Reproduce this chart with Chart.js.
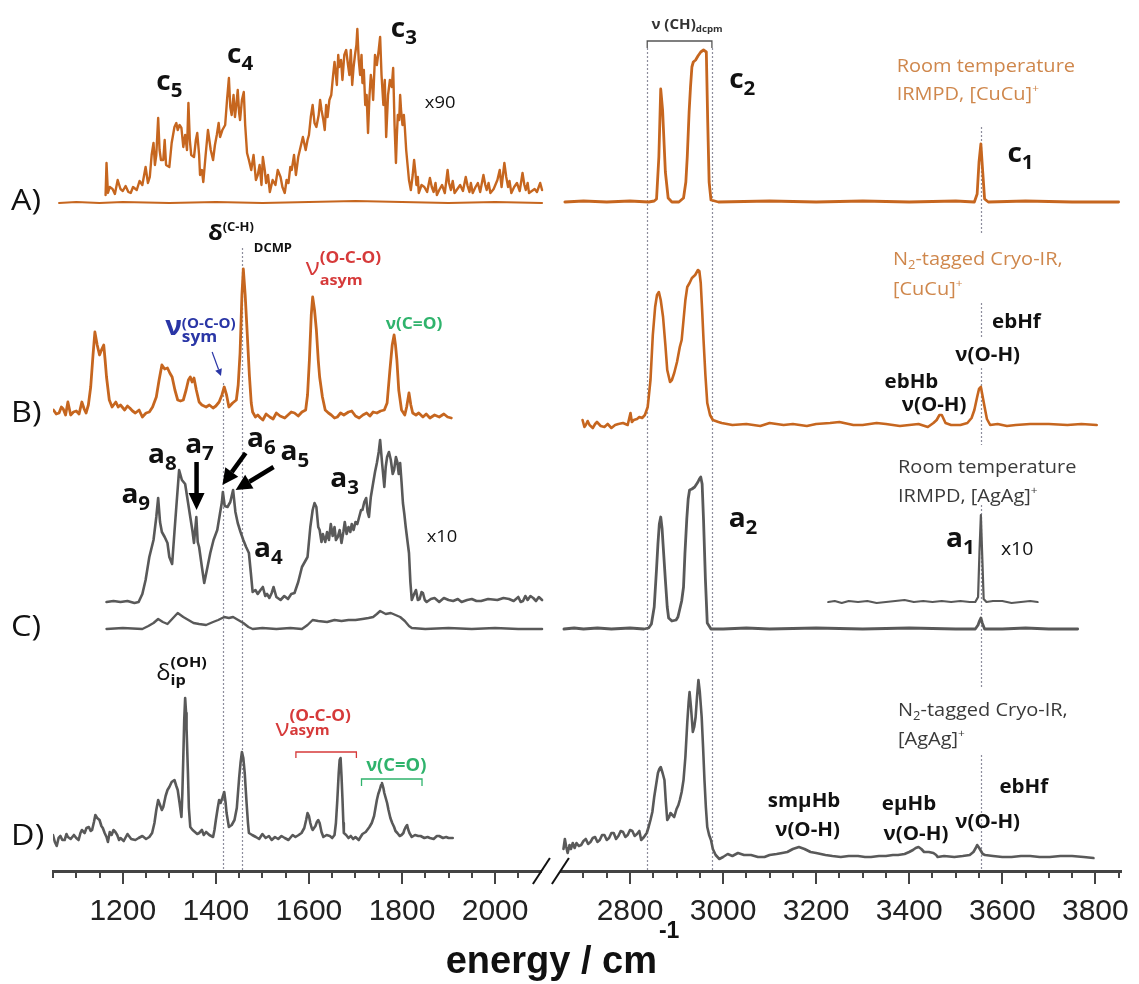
<!DOCTYPE html>
<html><head><meta charset="utf-8">
<script src="https://cdn.jsdelivr.net/npm/chart.js@4.4.1/dist/chart.umd.min.js"></script>
<style>html,body{margin:0;padding:0;background:#fff;}canvas{display:block;}</style>
</head><body>
<canvas id="chart" width="1139" height="984" style="width:1139px;height:984px"></canvas>
<script>
// ---------------- DATA (wavenumber cm-1, intensity a.u.) ----------------
const A_left_raw = [[1063,0],[1100,1],[1150,0],[1200,1],[1300,0],[1400,1],[1500,0],[1600,1],[1700,2],[1800,1],[1900,0],[2000,1],[2101,0]];
const A_left_x90 = [[1163,0],[1165,32],[1168,2],[1172,8],[1178,6],[1183,1],[1189,15],[1195,6],[1200,4],[1206,9],[1212,3],[1217,2],[1222,8],[1230,5],[1236,14],[1242,10],[1249,28],[1254,12],[1258,18],[1262,40],[1266,52],[1269,30],[1272,40],[1276,77],[1279,45],[1282,35],[1287,35],[1290,55],[1293,30],[1300,28],[1305,52],[1311,68],[1315,72],[1318,65],[1322,70],[1326,67],[1330,48],[1334,60],[1338,45],[1341,92],[1344,55],[1347,40],[1353,38],[1357,55],[1360,62],[1364,40],[1366,20],[1370,25],[1373,13],[1378,40],[1383,65],[1389,45],[1394,35],[1398,50],[1402,60],[1406,72],[1409,58],[1414,65],[1420,70],[1424,95],[1428,117],[1431,88],[1434,80],[1438,100],[1441,78],[1444,90],[1447,105],[1450,82],[1452,75],[1456,95],[1460,103],[1463,70],[1467,42],[1471,35],[1476,25],[1481,40],[1486,15],[1490,20],[1494,30],[1498,10],[1501,38],[1505,25],[1508,12],[1512,20],[1516,3],[1522,15],[1528,10],[1533,25],[1539,18],[1543,8],[1548,2],[1552,15],[1556,12],[1560,28],[1563,25],[1568,40],[1572,20],[1577,38],[1582,48],[1587,58],[1593,45],[1597,55],[1600,60],[1604,78],[1608,90],[1612,72],[1616,68],[1621,80],[1624,95],[1627,85],[1631,75],[1634,65],[1637,90],[1640,78],[1644,95],[1648,100],[1652,120],[1655,133],[1658,120],[1660,110],[1663,140],[1665,128],[1669,135],[1672,115],[1676,140],[1680,145],[1684,130],[1687,120],[1690,145],[1693,110],[1696,128],[1699,140],[1702,150],[1704,166],[1707,135],[1710,120],[1713,140],[1715,112],[1718,125],[1721,90],[1724,100],[1727,62],[1730,98],[1733,120],[1736,110],[1738,95],[1742,140],[1746,130],[1750,145],[1753,158],[1756,120],[1760,90],[1763,115],[1766,58],[1770,100],[1774,115],[1778,108],[1781,127],[1784,70],[1787,32],[1789,60],[1791,80],[1794,75],[1796,100],[1798,85],[1801,70],[1804,80],[1806,68],[1809,45],[1812,30],[1815,15],[1819,5],[1823,20],[1826,35],[1829,22],[1831,10],[1834,18],[1836,2],[1842,10],[1848,8],[1854,3],[1860,17],[1864,8],[1868,3],[1872,12],[1875,0],[1880,5],[1886,10],[1892,2],[1898,25],[1901,12],[1905,5],[1909,14],[1913,2],[1919,6],[1925,10],[1931,4],[1937,18],[1941,9],[1945,3],[1948,12],[1952,2],[1958,8],[1963,12],[1968,3],[1975,20],[1979,10],[1982,5],[1986,12],[1990,2],[1997,6],[2005,15],[2010,25],[2014,8],[2020,32],[2024,18],[2028,8],[2031,14],[2035,2],[2041,8],[2047,12],[2053,4],[2059,22],[2063,10],[2066,5],[2070,12],[2073,2],[2079,4],[2085,6],[2090,3],[2097,12],[2101,5]];
const A_right = [[2660,0],[2700,1],[2750,0],[2800,1],[2840,0],[2852,1],[2857,3],[2862,45],[2866,113],[2870,92],[2876,30],[2882,4],[2890,0],[2905,0],[2915,4],[2920,20],[2923,45],[2927,90],[2930,115],[2933,135],[2936,140],[2941,142],[2946,146],[2952,150],[2958,152],[2964,150],[2967,80],[2970,20],[2974,2],[2990,0],[3100,1],[3200,0],[3300,1],[3400,0],[3500,1],[3540,0],[3546,8],[3550,40],[3554,58],[3558,30],[3562,3],[3570,0],[3650,1],[3750,0],[3850,0]];
const B_left = [[1051,5],[1057,1],[1063,2],[1068,8],[1072,6],[1077,0],[1082,13],[1088,0],[1094,3],[1100,4],[1106,1],[1112,13],[1117,6],[1121,2],[1126,10],[1131,28],[1136,60],[1140,83],[1145,70],[1150,60],[1155,66],[1159,70],[1162,55],[1165,38],[1171,15],[1177,8],[1185,13],[1190,8],[1195,10],[1204,5],[1210,9],[1215,7],[1221,4],[1227,2],[1235,5],[1242,-2],[1250,2],[1257,3],[1264,8],[1272,18],[1278,35],[1284,50],[1290,46],[1296,47],[1301,42],[1306,38],[1312,25],[1318,15],[1324,14],[1330,15],[1336,25],[1341,35],[1345,38],[1349,33],[1353,37],[1358,25],[1364,13],[1370,10],[1379,8],[1386,10],[1394,7],[1400,9],[1407,13],[1413,20],[1418,28],[1423,20],[1428,8],[1436,12],[1444,15],[1448,30],[1452,62],[1456,120],[1459,146],[1463,120],[1467,85],[1472,40],[1476,12],[1479,3],[1485,-2],[1490,0],[1496,-3],[1501,-5],[1508,1],[1516,-2],[1523,-4],[1530,2],[1538,-1],[1548,-3],[1555,0],[1562,3],[1569,2],[1577,-1],[1585,3],[1593,5],[1597,20],[1601,55],[1605,100],[1608,118],[1612,105],[1616,85],[1620,55],[1623,38],[1629,18],[1635,5],[1642,2],[1648,0],[1655,-3],[1661,-2],[1668,2],[1675,0],[1685,3],[1692,4],[1700,-1],[1708,-3],[1716,0],[1724,2],[1731,-1],[1738,3],[1746,2],[1754,4],[1762,5],[1768,12],[1774,45],[1779,70],[1783,80],[1786,70],[1789,55],[1793,25],[1799,5],[1806,0],[1810,8],[1815,22],[1819,10],[1823,2],[1830,0],[1836,2],[1845,-2],[1852,1],[1860,-3],[1870,0],[1880,-2],[1890,1],[1898,-2],[1906,-3]];
const B_right = [[2698,5],[2702,-2],[2705,0],[2709,4],[2713,0],[2720,-3],[2725,1],[2729,3],[2737,-1],[2745,-2],[2752,1],[2760,-3],[2768,0],[2775,1],[2785,2],[2795,0],[2801,12],[2804,3],[2808,5],[2815,6],[2820,8],[2826,7],[2832,10],[2838,18],[2844,45],[2849,90],[2854,118],[2858,130],[2862,133],[2866,125],[2871,108],[2876,80],[2880,55],[2886,43],[2890,45],[2895,52],[2901,63],[2907,78],[2911,85],[2915,105],[2919,125],[2923,138],[2928,142],[2933,147],[2940,150],[2946,155],[2949,154],[2952,142],[2955,115],[2958,85],[2962,50],[2966,22],[2972,10],[2978,5],[2990,3],[2997,2],[3020,0],[3050,1],[3080,-1],[3100,2],[3130,0],[3150,1],[3180,-1],[3200,1],[3230,2],[3250,3],[3280,0],[3300,0],[3330,2],[3350,1],[3380,-1],[3400,0],[3420,1],[3440,-2],[3452,2],[3459,5],[3465,10],[3470,10],[3474,6],[3478,2],[3490,0],[3510,0],[3525,2],[3534,7],[3540,15],[3546,28],[3550,36],[3554,38],[3558,28],[3562,18],[3567,6],[3574,0],[3590,1],[3610,-1],[3629,0],[3660,1],[3700,1],[3740,0],[3770,1],[3803,0]];
const C_left_x10 = [[1165,0],[1180,1],[1195,0],[1210,1],[1225,-1],[1234,0],[1242,8],[1249,22],[1257,45],[1266,62],[1272,85],[1276,104],[1280,80],[1284,70],[1290,65],[1296,59],[1300,45],[1306,38],[1311,70],[1315,95],[1321,132],[1327,122],[1334,118],[1340,100],[1345,85],[1350,70],[1353,59],[1358,85],[1361,60],[1364,55],[1370,35],[1375,19],[1382,35],[1388,49],[1395,62],[1403,72],[1409,89],[1413,100],[1415,110],[1419,96],[1425,95],[1431,100],[1437,112],[1442,90],[1447,79],[1453,70],[1459,62],[1465,55],[1471,49],[1475,30],[1479,10],[1485,12],[1490,8],[1496,12],[1501,15],[1506,6],[1510,8],[1515,4],[1520,9],[1524,15],[1530,5],[1539,2],[1547,6],[1555,3],[1562,8],[1569,9],[1577,20],[1585,35],[1597,45],[1603,75],[1608,92],[1612,99],[1616,95],[1620,75],[1623,72],[1627,60],[1630,68],[1635,60],[1639,70],[1643,62],[1647,78],[1651,66],[1655,75],[1658,62],[1662,65],[1666,72],[1670,59],[1674,70],[1677,80],[1681,68],[1685,75],[1689,70],[1692,78],[1696,72],[1700,80],[1704,78],[1708,85],[1712,92],[1715,92],[1719,100],[1723,104],[1726,90],[1729,85],[1733,105],[1738,119],[1742,130],[1746,139],[1750,150],[1753,162],[1757,140],[1762,115],[1765,135],[1768,145],[1772,150],[1776,142],[1780,128],[1783,132],[1787,145],[1790,140],[1793,128],[1796,139],[1799,120],[1802,99],[1805,88],[1808,75],[1812,60],[1815,49],[1818,20],[1821,2],[1826,8],[1830,12],[1834,2],[1838,3],[1842,10],[1845,9],[1849,2],[1853,0],[1862,3],[1870,4],[1880,0],[1890,4],[1900,2],[1910,1],[1920,3],[1928,0],[1940,2],[1950,3],[1960,1],[1970,1],[1985,3],[2005,2],[2018,4],[2030,3],[2040,1],[2050,5],[2055,0],[2060,1],[2065,6],[2070,2],[2076,6],[2082,4],[2088,1],[2094,5],[2101,2]];
const C_left_raw = [[1165,0],[1200,1],[1242,0],[1255,3],[1266,6],[1276,10],[1286,7],[1296,5],[1306,10],[1318,16],[1330,12],[1341,9],[1352,6],[1364,5],[1379,4],[1394,7],[1405,9],[1418,12],[1428,11],[1437,12],[1448,9],[1459,6],[1470,2],[1479,0],[1500,1],[1530,0],[1560,1],[1585,0],[1597,4],[1608,9],[1620,8],[1639,7],[1655,9],[1670,8],[1685,9],[1700,9],[1715,10],[1728,11],[1738,12],[1746,15],[1753,18],[1765,15],[1776,16],[1786,14],[1796,12],[1806,8],[1815,3],[1821,1],[1850,0],[1900,1],[1950,0],[2000,1],[2050,0],[2101,0]];
const C_right = [[2658,0],[2680,1],[2700,0],[2730,1],[2760,0],[2800,1],[2830,0],[2840,1],[2846,5],[2852,22],[2857,60],[2860,85],[2863,105],[2866,112],[2869,100],[2871,85],[2876,49],[2880,22],[2883,11],[2890,8],[2899,9],[2903,12],[2907,20],[2911,28],[2915,42],[2918,75],[2922,110],[2925,130],[2928,139],[2933,140],[2939,142],[2946,147],[2949,150],[2952,152],[2955,145],[2958,109],[2962,50],[2966,6],[2974,0],[3000,0],[3050,1],[3100,0],[3200,1],[3300,0],[3400,1],[3500,0],[3542,0],[3548,4],[3551,8],[3554,11],[3557,6],[3562,0],[3600,0],[3650,1],[3700,0],[3762,0]];
const C_right_x10 = [[3226,0],[3240,1],[3255,-1],[3270,1],[3290,0],[3310,1],[3330,-1],[3350,0],[3370,1],[3390,2],[3410,0],[3430,1],[3450,0],[3470,1],[3490,0],[3510,1],[3530,0],[3542,0],[3548,5],[3551,50],[3554,87],[3557,45],[3560,3],[3566,0],[3580,1],[3600,1],[3620,-1],[3640,0],[3660,1],[3676,0]];
const D_left = [[1050,3],[1054,-4],[1058,-8],[1062,0],[1066,2],[1070,-2],[1075,-2],[1079,4],[1082,1],[1088,-1],[1095,3],[1100,0],[1105,-2],[1109,5],[1112,8],[1118,5],[1122,10],[1127,11],[1131,7],[1134,8],[1138,16],[1141,23],[1145,20],[1150,18],[1154,12],[1157,10],[1161,5],[1165,1],[1168,-4],[1172,6],[1176,3],[1180,8],[1184,6],[1188,3],[1192,-2],[1195,0],[1202,-3],[1210,4],[1218,-1],[1227,-2],[1234,0],[1242,2],[1250,-1],[1257,1],[1263,5],[1268,15],[1272,28],[1276,38],[1280,33],[1284,28],[1287,31],[1292,42],[1296,48],[1300,51],[1305,56],[1311,58],[1315,52],[1318,48],[1322,35],[1326,21],[1328,45],[1330,80],[1332,118],[1334,140],[1336,125],[1337,110],[1340,65],[1342,30],[1345,11],[1350,8],[1355,6],[1360,4],[1364,5],[1370,8],[1374,3],[1379,6],[1386,3],[1394,1],[1397,8],[1400,18],[1404,30],[1407,38],[1410,35],[1414,40],[1418,46],[1421,35],[1423,25],[1428,11],[1434,13],[1440,18],[1445,30],[1450,60],[1453,75],[1456,86],[1459,80],[1462,65],[1466,35],[1469,15],[1471,5],[1478,3],[1486,1],[1493,-1],[1500,4],[1507,0],[1514,2],[1520,-2],[1527,1],[1534,-1],[1541,2],[1548,0],[1556,-2],[1565,3],[1571,1],[1578,3],[1584,5],[1590,10],[1594,18],[1597,25],[1600,22],[1603,15],[1606,10],[1608,8],[1611,10],[1614,12],[1617,16],[1620,18],[1623,15],[1627,6],[1631,1],[1638,3],[1645,2],[1650,0],[1655,3],[1658,15],[1661,38],[1664,65],[1666,78],[1668,80],[1670,62],[1672,40],[1674,15],[1675,5],[1680,3],[1685,0],[1690,2],[1695,-1],[1700,1],[1707,-2],[1715,4],[1722,6],[1730,11],[1735,15],[1740,22],[1743,30],[1746,38],[1749,44],[1752,48],[1755,53],[1757,55],[1760,50],[1762,45],[1765,40],[1768,35],[1771,28],[1775,20],[1779,15],[1783,11],[1786,7],[1790,5],[1795,2],[1799,3],[1803,5],[1805,8],[1808,11],[1811,13],[1813,9],[1816,5],[1821,1],[1828,3],[1835,2],[1840,2],[1848,0],[1855,1],[1860,0],[1868,-1],[1875,2],[1880,2],[1888,0],[1895,1],[1900,0],[1909,0]];
const D_right = [[2657,8],[2660,18],[2663,10],[2666,4],[2670,12],[2673,8],[2677,14],[2681,9],[2685,14],[2690,11],[2695,12],[2700,16],[2705,18],[2710,13],[2715,15],[2720,19],[2725,20],[2730,15],[2735,17],[2740,22],[2745,22],[2750,17],[2755,19],[2760,24],[2765,24],[2770,18],[2775,21],[2780,26],[2785,25],[2790,20],[2795,22],[2800,27],[2805,26],[2810,21],[2815,23],[2820,26],[2824,17],[2830,20],[2836,24],[2840,30],[2844,37],[2848,45],[2852,60],[2856,72],[2860,84],[2863,88],[2866,90],[2870,84],[2874,77],[2877,55],[2880,37],[2884,40],[2887,44],[2891,42],[2895,40],[2900,48],[2904,52],[2907,57],[2911,65],[2915,77],[2919,100],[2923,134],[2926,155],[2928,165],[2931,150],[2935,125],[2938,130],[2941,140],[2944,160],[2947,177],[2950,165],[2954,140],[2957,110],[2960,77],[2963,50],[2966,30],[2970,22],[2974,17],[2978,8],[2984,2],[2992,-2],[3000,0],[3010,3],[3020,1],[3032,4],[3045,2],[3060,2],[3075,0],[3089,0],[3100,2],[3115,3],[3127,4],[3138,5],[3150,8],[3163,10],[3175,8],[3188,5],[3200,4],[3220,2],[3235,1],[3253,0],[3270,1],[3290,1],[3305,0],[3318,0],[3335,1],[3350,1],[3365,2],[3376,2],[3390,3],[3400,5],[3408,7],[3414,9],[3420,10],[3426,8],[3432,5],[3442,5],[3452,4],[3458,2],[3461,0],[3475,1],[3497,0],[3515,1],[3530,2],[3538,5],[3543,9],[3546,12],[3549,10],[3553,7],[3558,3],[3563,2],[3580,1],[3600,0],[3620,0],[3640,1],[3660,1],[3680,0],[3702,0],[3725,1],[3750,1],[3775,0],[3796,-1]];

const majorTicks = [1200, 1400, 1600, 1800, 2000, 2800, 3000, 3200, 3400, 3600, 3800];
const tickRanges = [[1050, 2050], [2700, 3850]];

// ---------------- LAYOUT / STYLE ----------------
const AXIS_GAP = 510;                 // cm-1 removed by the axis break
const cx = w => (w > 2400 ? w - AXIS_GAP : w);       // real -> axis units
const ux = v => (v > 2130 ? v + AXIS_GAP : v);       // axis units -> real
const ORANGE = '#c6661f', GRAY = '#595959';
const ORANGE_TXT = '#cf874c', DARK_TXT = '#3a3a3a', TXT = '#111';
const RED = '#d63a3a', GREEN = '#2fb36c', BLUE = '#2a36a6';
const FONT = '"Open Sans", "Liberation Sans", sans-serif';

const traces = [
  {d: A_left_raw, off: 672, c: ORANGE, w: 2},
  {d: A_left_x90, off: 680, c: ORANGE, w: 2.4},
  {d: A_right, off: 673, c: ORANGE, w: 2.8},
  {d: B_left, off: 460, c: ORANGE, w: 2.8},
  {d: B_right, off: 450, c: ORANGE, w: 2.6},
  {d: C_left_raw, off: 246, c: GRAY, w: 2.4},
  {d: C_left_x10, off: 273, c: GRAY, w: 2.6},
  {d: C_right, off: 246, c: GRAY, w: 2.8},
  {d: C_right_x10, off: 273, c: GRAY, w: 2.2},
  {d: D_left, off: 37, c: GRAY, w: 2.6},
  {d: D_right, off: 18, c: GRAY, w: 2.6},
];

const T = (t, s, b, dy, f) => ({t, s, b: !!b, dy: dy || 0, f});
const S = (sup, sub) => ({stack: [sup, sub]});
const cLab = (n) => [T('c', 26, 1), T(n, 19, 1, 7)];
const aLab = (n) => [T('a', 26, 1), T(n, 19, 1, 7)];
const OH = [T('ν(O-H)', 19, 1)];

const notes = [
  {x: 960, v: 665, p: [T('A)', 30)], c: TXT},
  {x: 960, v: 453, p: [T('B)', 30)], c: TXT},
  {x: 960, v: 239, p: [T('C)', 30)], c: TXT},
  {x: 960, v: 30, p: [T('D)', 30)], c: TXT},
  {x: 1272, v: 785, p: cLab('5'), c: TXT},
  {x: 1424, v: 812, p: cLab('4'), c: TXT},
  {x: 1776, v: 838, p: cLab('3'), c: TXT},
  {x: 1849, v: 767, p: [T('x90', 17)], c: TXT},
  {x: 2846, v: 846, p: [T('ν (CH)', 14, 1), T('dcpm', 9, 1, 3)], c: '#333'},
  {x: 3013, v: 787, p: cLab('2'), c: TXT},
  {x: 3373, v: 803, p: [T('Room temperature', 18.5)], c: ORANGE_TXT},
  {x: 3373, v: 775, p: [T('IRMPD, [CuCu]', 18.5), T('+', 11, 0, -8)], c: ORANGE_TXT},
  {x: 3611, v: 713, p: cLab('1'), c: TXT},
  {x: 1383, v: 635, p: [T('δ', 22, 1), T('(C-H)', 12, 1, -9), T('DCMP', 12, 1, 12)], c: TXT},
  {x: 1593, v: 600, p: [T('ν', 24), S(T('(O-C-O)', 16, 1, -12), T('asym', 15, 1, 10))], c: RED},
  {x: 1765, v: 546, p: [T('ν(C=O)', 16, 1)], c: GREEN},
  {x: 1291, v: 540, p: [T('ν', 26, 1), S(T('(O-C-O)', 14, 1, -7), T('sym', 16, 1, 7))], c: BLUE},
  {x: 3365, v: 610, p: [T('N', 18.5), T('2', 12, 0, 4), T('-tagged Cryo-IR,', 18.5)], c: ORANGE_TXT},
  {x: 3365, v: 580, p: [T('[CuCu]', 18.5), T('+', 11, 0, -8)], c: ORANGE_TXT},
  {x: 3578, v: 547, p: [T('ebHf', 19, 1)], c: TXT},
  {x: 3499, v: 514, p: OH, c: TXT},
  {x: 3347, v: 487, p: [T('ebHb', 19, 1)], c: TXT},
  {x: 3384, v: 464, p: OH, c: TXT},
  {x: 1197, v: 372, p: aLab('9'), c: TXT},
  {x: 1254, v: 412, p: aLab('8'), c: TXT},
  {x: 1334, v: 422, p: aLab('7'), c: TXT},
  {x: 1467, v: 428, p: aLab('6'), c: TXT},
  {x: 1539, v: 415, p: aLab('5'), c: TXT},
  {x: 1482, v: 318, p: aLab('4'), c: TXT},
  {x: 1646, v: 388, p: aLab('3'), c: TXT},
  {x: 1853, v: 333, p: [T('x10', 17)], c: TXT},
  {x: 3376, v: 402, p: [T('Room temperature', 18.5)], c: DARK_TXT},
  {x: 3376, v: 373, p: [T('IRMPD, [AgAg]', 18.5), T('+', 11, 0, -8)], c: DARK_TXT},
  {x: 3012, v: 348, p: aLab('2'), c: TXT},
  {x: 3479, v: 328, p: aLab('1'), c: TXT},
  {x: 3597, v: 320, p: [T('x10', 18)], c: TXT},
  {x: 1272, v: 195, p: [T('δ', 22), S(T('(OH)', 15, 1, -13), T('ip', 15, 1, 5))], c: TXT},
  {x: 1528, v: 139, p: [T('ν', 24), S(T('(O-C-O)', 16, 1, -15), T('asym', 14, 1, -1))], c: RED},
  {x: 1723, v: 104, p: [T('ν(C=O)', 17, 1)], c: GREEN},
  {x: 3376, v: 159, p: [T('N', 18.5), T('2', 12, 0, 4), T('-tagged Cryo-IR,', 18.5)], c: DARK_TXT},
  {x: 3376, v: 130, p: [T('[AgAg]', 18.5), T('+', 11, 0, -8)], c: DARK_TXT},
  {x: 3594, v: 82, p: [T('ebHf', 19, 1)], c: TXT},
  {x: 3499, v: 47, p: OH, c: TXT},
  {x: 3096, v: 68, p: [T('smμHb', 19, 1)], c: TXT},
  {x: 3112, v: 39, p: OH, c: TXT},
  {x: 3341, v: 65, p: [T('eμHb', 19, 1)], c: TXT},
  {x: 3345, v: 35, p: OH, c: TXT},
];

const dotted = [
  {x: 1416, segs: [[492, 4]]},
  {x: 1457, segs: [[627, 4]]},
  {x: 2837, segs: [[827, 4]]},
  {x: 2976, segs: [[827, 4]]},
  {x: 3554, segs: [[748, 640], [572, 537], [507, 430], [370, 188], [120, 4]]},
];
const brackets = [
  {x1: 2837, x2: 2976, v: 834, leg: 7, c: '#555'},
  {x1: 1572, x2: 1702, v: 123, leg: 6, c: RED},
  {x1: 1713, x2: 1843, v: 96, leg: 7, c: GREEN},
];
const arrows = [
  {f: [1358.5, 413], t: [1358.5, 365], w: 4.5, h: 17, hw: 8, c: '#000'},
  {f: [1464, 422], t: [1414, 390], w: 4.5, h: 16, hw: 8, c: '#000'},
  {f: [1524, 408], t: [1442.5, 385], w: 4.5, h: 16, hw: 8, c: '#000'},
  {f: [1392, 523], t: [1411, 499], w: 1.2, h: 7, hw: 3.5, c: BLUE},
];

// ---------------- DRAW HELPERS ----------------
function fnt(p) { return (p.b ? 'bold ' : '') + p.s + 'px ' + (p.f || FONT); }
function rich(ctx, x, y, parts, color, sx) {
  ctx.save();
  ctx.fillStyle = color; ctx.textBaseline = 'alphabetic'; ctx.textAlign = 'left';
  const wOf = p => { ctx.font = fnt(p); return ctx.measureText(p.t).width; };
  let x0 = x;
  for (const p of parts) {
    const items = p.stack ? p.stack : [p];
    let wmax = 0;
    for (const it of items) {
      const w = wOf(it); wmax = Math.max(wmax, w);
      ctx.save(); ctx.font = fnt(it); ctx.translate(x0, y + it.dy); ctx.scale(sx, 1);
      ctx.fillText(it.t, 0, 0); ctx.restore();
    }
    x0 += wmax * sx;
  }
  ctx.restore();
}

const decor = {
  id: 'decor',
  beforeDatasetsDraw(chart) {
    const ctx = chart.ctx, xs = chart.scales.x, ys = chart.scales.y;
    const px = w => xs.getPixelForValue(cx(w)), py = v => ys.getPixelForValue(v);
    ctx.save();
    ctx.strokeStyle = '#8d8d9c'; ctx.lineWidth = 1.2; ctx.setLineDash([2, 2]);
    for (const d of dotted) {
      const x = Math.round(px(d.x)) + 0.5;
      for (const [a, b] of d.segs) { ctx.beginPath(); ctx.moveTo(x, py(a)); ctx.lineTo(x, py(b)); ctx.stroke(); }
    }
    ctx.setLineDash([]);
    for (const b of brackets) {
      ctx.strokeStyle = b.c; ctx.lineWidth = 1.3;
      ctx.beginPath();
      ctx.moveTo(px(b.x1), py(b.v - b.leg)); ctx.lineTo(px(b.x1), py(b.v));
      ctx.lineTo(px(b.x2), py(b.v)); ctx.lineTo(px(b.x2), py(b.v - b.leg));
      ctx.stroke();
    }
    ctx.restore();
  },
  afterDatasetsDraw(chart) {
    const ctx = chart.ctx, xs = chart.scales.x, ys = chart.scales.y;
    const px = w => xs.getPixelForValue(cx(w)), py = v => ys.getPixelForValue(v);
    for (const a of arrows) {
      const x1 = px(a.f[0]), y1 = py(a.f[1]), x2 = px(a.t[0]), y2 = py(a.t[1]);
      const ang = Math.atan2(y2 - y1, x2 - x1);
      const bx = x2 - Math.cos(ang) * a.h, by = y2 - Math.sin(ang) * a.h;
      ctx.save();
      ctx.strokeStyle = a.c; ctx.fillStyle = a.c; ctx.lineWidth = a.w;
      ctx.beginPath(); ctx.moveTo(x1, y1); ctx.lineTo(bx, by); ctx.stroke();
      ctx.beginPath(); ctx.moveTo(x2, y2);
      ctx.lineTo(bx + Math.sin(ang) * a.hw, by - Math.cos(ang) * a.hw);
      ctx.lineTo(bx - Math.sin(ang) * a.hw, by + Math.cos(ang) * a.hw);
      ctx.closePath(); ctx.fill();
      ctx.restore();
    }
    for (const n of notes) rich(ctx, px(n.x), py(n.v), n.p, n.c, 1.08);
  },
  afterDraw(chart) {
    const ctx = chart.ctx, xs = chart.scales.x;
    const bottom = chart.chartArea.bottom;
    ctx.save();
    // minor ticks
    ctx.strokeStyle = '#444'; ctx.lineWidth = 2;
    for (const [a, b] of tickRanges) {
      for (let v = a; v <= b; v += 50) {
        if (majorTicks.includes(v)) continue;
        const x = Math.round(xs.getPixelForValue(cx(v)));
        ctx.beginPath(); ctx.moveTo(x, bottom); ctx.lineTo(x, bottom + 7); ctx.stroke();
      }
    }
    // axis break
    const bc = xs.getPixelForValue(2120);
    ctx.fillStyle = '#fff';
    ctx.fillRect(bc - 9, bottom - 3, 18, 6);
    ctx.strokeStyle = '#111'; ctx.lineWidth = 2;
    for (const off of [-9.5, 9.5]) {
      ctx.beginPath(); ctx.moveTo(bc + off - 8.5, bottom + 13); ctx.lineTo(bc + off + 8.5, bottom - 13); ctx.stroke();
    }
    // axis title
    const tx = xs.getPixelForValue(1894), ty = bottom + 102;
    ctx.fillStyle = '#111'; ctx.textBaseline = 'alphabetic'; ctx.textAlign = 'left';
    ctx.font = 'bold 38px "Liberation Sans", Arial, sans-serif';
    const main = 'energy / cm';
    ctx.fillText(main, tx, ty);
    const w = ctx.measureText(main).width;
    ctx.font = 'bold 23px "Liberation Sans", Arial, sans-serif';
    ctx.fillText('-1', tx + w + 2, ty - 35);
    ctx.restore();
  }
};

// ---------------- CHART ----------------
new Chart(document.getElementById('chart'), {
  type: 'line',
  data: {
    datasets: traces.map(tr => ({
      data: tr.d.map(([w, v]) => ({x: cx(w), y: tr.off + v})),
      borderColor: tr.c, borderWidth: tr.w, pointRadius: 0, tension: 0, fill: false,
      borderJoinStyle: 'round', borderCapStyle: 'round'
    }))
  },
  options: {
    responsive: false, animation: false, devicePixelRatio: 1,
    layout: {padding: {left: 53, right: 12, top: 0, bottom: 0}},
    plugins: {legend: {display: false}, tooltip: {enabled: false}},
    scales: {
      x: {
        type: 'linear', min: 1050, max: 3345,
        afterBuildTicks: s => { s.ticks = majorTicks.map(v => ({value: cx(v)})); },
        afterFit: s => { s.height = 113; },
        ticks: {
          autoSkip: false, maxRotation: 0, padding: 10, color: '#222',
          font: {size: 30, family: '"Liberation Sans", Arial, sans-serif'},
          callback: v => String(ux(v))
        },
        grid: {drawOnChartArea: false, drawTicks: true, tickLength: 13, color: '#444', lineWidth: 2},
        border: {display: true, color: '#444', width: 3}
      },
      y: {display: false, min: 4, max: 875}
    }
  },
  plugins: [decor]
});
</script>
</body></html>
